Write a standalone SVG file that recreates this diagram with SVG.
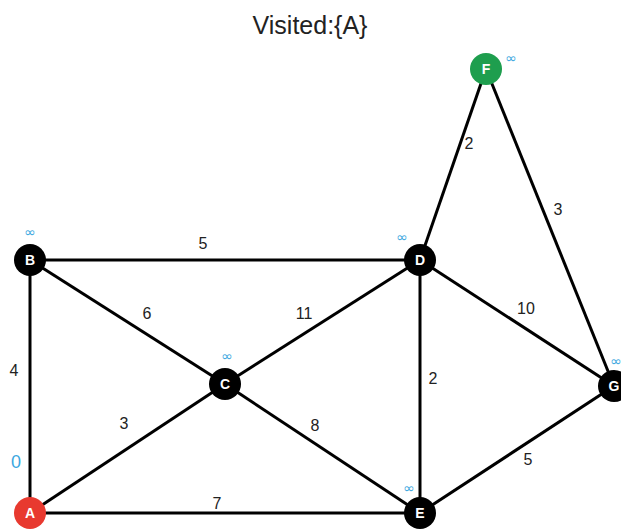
<svg xmlns="http://www.w3.org/2000/svg" width="621" height="529" viewBox="0 0 621 529">
<style>
.e{stroke:#000;stroke-width:3;fill:none}
.n{fill:#000}
.nl{fill:#fff;font-family:"Liberation Sans",Arial,sans-serif;font-weight:bold;font-size:14px;text-anchor:middle}
.w{fill:#222;font-family:"Liberation Sans",Arial,sans-serif;font-size:16px;text-anchor:middle}
.d{fill:#3ba7e0;font-family:"DejaVu Sans",sans-serif;font-size:14px;text-anchor:middle}
</style>
<rect width="621" height="529" fill="#fff"/>
<text x="310" y="34" font-family="Liberation Sans,Arial,sans-serif" font-size="25" fill="#222" text-anchor="middle">Visited:{A}</text>
<g id="edges">
<line class="e" x1="30" y1="513" x2="30" y2="260"/>
<line class="e" x1="30" y1="513" x2="420" y2="513"/>
<line class="e" x1="30" y1="513" x2="225" y2="384"/>
<line class="e" x1="30" y1="260" x2="420" y2="260"/>
<line class="e" x1="30" y1="260" x2="225" y2="384"/>
<line class="e" x1="225" y1="384" x2="420" y2="260"/>
<line class="e" x1="225" y1="384" x2="420" y2="513"/>
<line class="e" x1="420" y1="260" x2="420" y2="513"/>
<line class="e" x1="420" y1="260" x2="486" y2="69"/>
<line class="e" x1="486" y1="69" x2="614" y2="386"/>
<line class="e" x1="420" y1="260" x2="614" y2="386"/>
<line class="e" x1="420" y1="513" x2="614" y2="386"/>
</g>
<g id="weights">
<text class="w" x="203" y="249">5</text>
<text class="w" x="147" y="319">6</text>
<text class="w" x="304" y="319">11</text>
<text class="w" x="14" y="376">4</text>
<text class="w" x="124" y="429">3</text>
<text class="w" x="315" y="431">8</text>
<text class="w" x="217" y="509">7</text>
<text class="w" x="433" y="384">2</text>
<text class="w" x="526" y="314">10</text>
<text class="w" x="528" y="465">5</text>
<text class="w" x="469" y="149">2</text>
<text class="w" x="558" y="215">3</text>
</g>
<g id="A"><circle cx="30" cy="513" r="16" fill="#e8392f"/><text class="nl" x="30" y="518">A</text><text x="16" y="468" fill="#3ba7e0" font-family="Liberation Sans,Arial,sans-serif" font-size="18" text-anchor="middle">0</text></g>
<g id="B"><circle class="n" cx="30" cy="260" r="16"/><text class="nl" x="30" y="265">B</text><text class="d" x="30" y="237">∞</text></g>
<g id="C"><circle class="n" cx="225" cy="384" r="16"/><text class="nl" x="225" y="389">C</text><text class="d" x="227" y="361">∞</text></g>
<g id="D"><circle class="n" cx="420" cy="260" r="16"/><text class="nl" x="420" y="265">D</text><text class="d" x="402" y="242">∞</text></g>
<g id="E"><circle class="n" cx="420" cy="513" r="16"/><text class="nl" x="420" y="518">E</text><text class="d" x="409" y="493">∞</text></g>
<g id="F"><circle cx="486" cy="69" r="16" fill="#1e9e4e"/><text class="nl" x="486" y="74">F</text><text class="d" x="511" y="63">∞</text></g>
<g id="G"><circle class="n" cx="614" cy="386" r="16"/><text class="nl" x="614" y="391">G</text><text class="d" x="616" y="366">∞</text></g>
</svg>
